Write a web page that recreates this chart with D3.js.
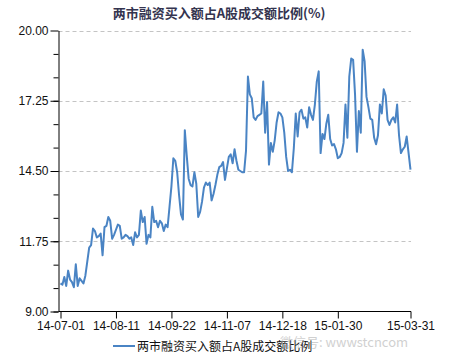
<!DOCTYPE html>
<html>
<head>
<meta charset="utf-8">
<script src="https://cdn.jsdelivr.net/npm/d3@7"></script>
<style>
  body { margin: 0; background: #fff; }
  svg { display: block; }
</style>
</head>
<body>
<svg id="chart"></svg>
<script>
// 两市融资买入额占A股成交额比例, one value per trading day 14-07-01 .. 15-03-31
const ratio = [
  10.1, 10.05, 10.35, 10.0, 10.6, 10.25, 10.15, 9.95, 10.85, 10.0,
  10.3, 10.2, 10.1, 10.4, 10.95, 11.5, 11.6, 12.25, 12.15, 11.9,
  11.95, 12.05, 11.2, 12.3, 12.35, 12.7, 12.55, 11.85, 12.0, 12.2,
  12.4, 12.35, 11.85, 11.9, 12.0, 11.95, 11.85, 11.9, 11.6, 12.1,
  11.9, 12.0, 12.95, 12.5, 12.7, 11.65, 12.0, 11.9, 13.1, 12.5,
  12.55, 12.3, 12.55, 12.45, 12.15, 12.4, 12.3, 13.1, 13.9, 15.0,
  14.9, 14.45, 13.55, 12.8, 12.6, 16.1, 15.1, 14.2, 13.95, 13.9,
  14.45, 14.0, 12.7, 12.9, 13.3, 13.85, 14.05, 13.95, 14.05, 13.35,
  13.6, 13.95, 14.35, 14.65, 14.7, 14.85, 14.15, 14.6, 15.05, 15.15,
  14.8, 15.35, 14.9, 14.55, 14.5, 14.45, 14.45, 15.3, 18.2, 17.5,
  17.35, 16.6, 16.5, 16.65, 16.7, 16.75, 18.0, 16.0, 17.2, 14.75,
  15.6, 15.25, 15.7, 16.4, 16.8, 16.75, 16.6, 16.0, 15.05, 14.5,
  14.55, 14.45, 15.4, 16.75, 15.85, 16.8, 16.9, 16.55, 16.6, 16.2,
  17.0, 16.7, 16.5, 17.1, 18.0, 18.4, 15.2, 15.95, 15.75, 16.35,
  16.7, 15.75, 15.5, 15.55, 15.35, 15.0, 15.05, 15.2, 15.6, 17.1,
  15.8, 18.2, 18.9, 18.85, 17.5, 15.25, 16.85, 16.0, 19.25, 18.8,
  17.4, 17.0, 16.55, 16.5, 15.8, 15.55, 15.9, 17.1, 16.75, 17.7,
  17.45, 16.5, 16.3, 16.5, 16.6, 16.4, 17.1, 15.9, 15.2, 15.35,
  15.45, 15.85, 15.2, 14.55
];
const tickIdx = [0, 29, 58, 87, 116, 145, 183];
const tickLabels = ["14-07-01", "14-08-11", "14-09-22", "14-11-07", "14-12-18", "15-01-30", "15-03-31"];
const yTicks = [9, 11.75, 14.5, 17.25, 20];

const W = 450, H = 363;
const plotLeft = 58.5, plotRight = 411, plotTop = 30.5, plotBottom = 311.5;
const font = "'Liberation Sans', Arial, sans-serif";
const cjk = "'Noto Sans CJK SC', sans-serif";

const svg = d3.select("#chart").attr("width", W).attr("height", H);

const x = d3.scaleLinear().domain([0, ratio.length - 1]).range([60.5, 410.5]);
const y = d3.scaleLinear().domain([9, 20]).range([plotBottom, plotTop]);

// title
svg.append("text")
  .attr("x", 219).attr("y", 18)
  .attr("text-anchor", "middle")
  .style("font-family", cjk).style("font-size", "13px").style("font-weight", "bold")
  .attr("fill", "#34344f")
  .text("两市融资买入额占A股成交额比例(%)");

// grid
svg.append("g").selectAll("line")
  .data(yTicks.slice(1))
  .join("line")
  .attr("x1", plotLeft).attr("x2", plotRight)
  .attr("y1", d => Math.round(y(d)) + 0.5).attr("y2", d => Math.round(y(d)) + 0.5)
  .attr("stroke", "#c4c4c4").attr("stroke-dasharray", "4,3");

// y axis
const yAxis = d3.axisLeft(y).tickValues(yTicks).tickFormat(d3.format(".2f"))
  .tickSizeInner(8).tickSizeOuter(0).tickPadding(2);
const gy = svg.append("g").attr("transform", `translate(${plotLeft},0)`).call(yAxis);
gy.select(".domain").attr("stroke", "#000");
gy.selectAll(".tick line").attr("stroke", "#000");
gy.selectAll("text").style("font-family", font).style("font-size", "12px").attr("fill", "#111");

// minor y ticks
svg.append("g").attr("transform", `translate(${plotLeft},0)`)
  .call(d3.axisLeft(y).tickValues(d3.range(12).map(i => 9 + i * 11 / 12)).tickSize(5).tickFormat(""))
  .call(g => g.select(".domain").remove())
  .selectAll("line").attr("stroke", "#000");

// x axis
const xAxis = d3.axisBottom(x).tickValues(tickIdx).tickFormat((d, i) => tickLabels[i])
  .tickSizeInner(7).tickSizeOuter(0).tickPadding(3);
const gx = svg.append("g").attr("transform", `translate(0,${plotBottom})`).call(xAxis);
gx.select(".domain").remove();
gx.append("line").attr("x1", plotLeft).attr("x2", plotRight).attr("stroke", "#000");
gx.selectAll(".tick line").attr("stroke", "#000");
gx.selectAll("text").style("font-family", font).style("font-size", "12px").attr("fill", "#111");

// series
svg.append("path")
  .datum(ratio)
  .attr("fill", "none")
  .attr("stroke", "#4a84c4")
  .attr("stroke-width", 2)
  .attr("stroke-linejoin", "round")
  .attr("d", d3.line().x((d, i) => x(i)).y(d => y(d)));

// legend
const lg = svg.append("g").attr("transform", "translate(113,346)");
lg.append("line").attr("x1", 0).attr("x2", 22).attr("stroke", "#4a84c4").attr("stroke-width", 2);
lg.append("text").attr("x", 24).attr("y", 4.5)
  .style("font-family", cjk).style("font-size", "12px").attr("fill", "#111")
  .text("两市融资买入额占A股成交额比例");

// watermark
svg.append("text").attr("x", 280).attr("y", 347)
  .style("font-family", cjk).style("font-size", "13px")
  .attr("fill", "#999").attr("opacity", 0.45)
  .text("微信号: wwwstcncom");
</script>
</body>
</html>
